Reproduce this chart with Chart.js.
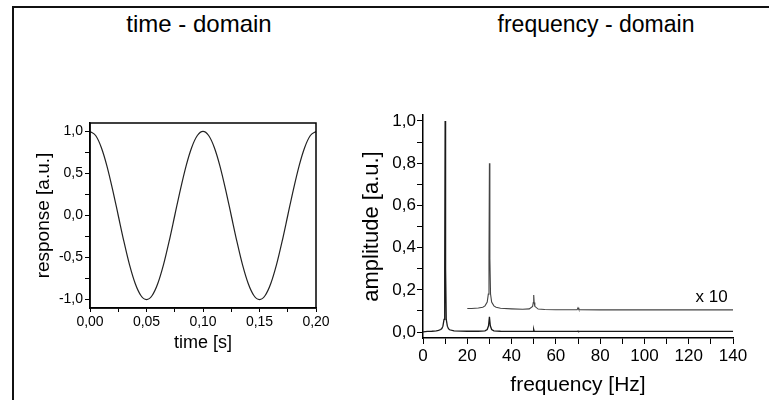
<!DOCTYPE html>
<html><head><meta charset="utf-8">
<script src="https://cdn.jsdelivr.net/npm/chart.js@4.4.1/dist/chart.umd.min.js"></script>
<style>
html,body{margin:0;padding:0;background:#fff;width:769px;height:400px;overflow:hidden;}
#frame{position:absolute;left:12px;top:6px;width:800px;height:500px;border-left:2px solid #111;border-top:2px solid #111;}
.title{position:absolute;top:10px;font-family:'Liberation Sans',Arial,sans-serif;font-size:23px;color:#000;transform:translateX(-50%);white-space:nowrap;line-height:28px;}
canvas{position:absolute;}
</style></head><body>
<div id="frame"></div>
<div class="title" style="left:199px;font-size:24px">time - domain</div>
<div class="title" style="left:596px">frequency - domain</div>
<canvas id="cL" width="340" height="262" style="left:0;top:95px"></canvas>
<canvas id="cR" width="429" height="305" style="left:340px;top:95px"></canvas>
<script>
// ---- time-domain data ----
const timeValues = [0.000,0.005,0.010,0.015,0.020,0.025,0.030,0.035,0.040,0.045,0.050,0.055,0.060,0.065,0.070,0.075,0.080,0.085,0.090,0.095,0.100,0.105,0.110,0.115,0.120,0.125,0.130,0.135,0.140,0.145,0.150,0.155,0.160,0.165,0.170,0.175,0.180,0.185,0.190,0.195,0.200];
const responseValues = [1.000,0.951,0.809,0.588,0.309,0.000,-0.309,-0.588,-0.809,-0.951,-1.000,-0.951,-0.809,-0.588,-0.309,0.000,0.309,0.588,0.809,0.951,1.000,0.951,0.809,0.588,0.309,0.000,-0.309,-0.588,-0.809,-0.951,-1.000,-0.951,-0.809,-0.588,-0.309,0.000,0.309,0.588,0.809,0.951,1.000];

// ---- frequency-domain data ----
const freqLow = [0,2,4,6,7,8,8.5,9,9.5,9.8,10,10.2,10.5,11,11.5,12,14,17,20,25,28,29,29.6,30,30.4,31,32,35,45,49.8,50,50.2,60,69.8,70,70.2,80,100,120,140];
const ampLow  = [0.001,0.003,0.004,0.006,0.008,0.012,0.017,0.028,0.06,0.3,1.0,0.3,0.06,0.028,0.016,0.011,0.006,0.005,0.004,0.004,0.006,0.012,0.03,0.072,0.03,0.012,0.006,0.004,0.003,0.004,0.012,0.004,0.003,0.003,0.005,0.003,0.003,0.003,0.003,0.003];
const freqHigh = [20,22,25,27,28,29,29.5,29.8,30,30.2,30.5,31,32,33,35,40,45,48,49.5,49.8,50,50.2,50.5,52,55,60,69.6,70,70.4,80,100,120,140];
const ampHigh  = [0.112,0.112,0.114,0.118,0.124,0.142,0.18,0.35,0.80,0.35,0.18,0.142,0.124,0.118,0.113,0.110,0.108,0.110,0.122,0.14,0.176,0.14,0.122,0.109,0.107,0.106,0.106,0.115,0.106,0.105,0.105,0.105,0.105];

// ---- tick values and labels ----
const timeTicks = [0,0.05,0.10,0.15,0.20];
const timeTickLabels = ['0,00','0,05','0,10','0,15','0,20'];
const timeMinor = [0.025,0.075,0.125,0.175];
const respTicks = [-1,-0.5,0,0.5,1];
const respTickLabels = ['-1,0','-0,5','0,0','0,5','1,0'];
const respMinor = [-0.75,-0.25,0.25,0.75];
const freqTicks = [0,20,40,60,80,100,120,140];
const freqTickLabels = ['0','20','40','60','80','100','120','140'];
const freqMinor = [10,30,50,70,90,110,130];
const ampTicks = [0,0.2,0.4,0.6,0.8,1.0];
const ampTickLabels = ['0,0','0,2','0,4','0,6','0,8','1,0'];
const ampMinor = [0.1,0.3,0.5,0.7,0.9];

const scaleLabel = 'x 10';
const scaleLabelPos = {x: 137.6, y: 0.165};

const FONT = "'Liberation Sans', Arial, Helvetica, sans-serif";

function axis(cfg) {
  const all = cfg.major.concat(cfg.minor).sort((a,b)=>a-b);
  return {
    type: 'linear',
    position: cfg.position,
    min: cfg.min, max: cfg.max,
    afterBuildTicks: s => { s.ticks = all.map(v => ({value: v})); },
    afterFit: s => { if (cfg.width !== undefined) s.width = cfg.width; if (cfg.height !== undefined) s.height = cfg.height; },
    grid: {display: true, drawOnChartArea: false, drawTicks: true, tickLength: cfg.tickLength, color: '#000', lineWidth: 1},
    border: {display: true, color: '#000', width: 1.5},
    ticks: {
      autoSkip: false, maxRotation: 0, minRotation: 0, padding: cfg.pad, color: '#000',
      font: {family: FONT, size: cfg.tickSize},
      callback: v => { const i = cfg.major.findIndex(m => Math.abs(m - v) < 1e-9); return i >= 0 ? cfg.labels[i] : ''; }
    },
    title: {display: true, text: cfg.title, color: '#000', font: {family: FONT, size: cfg.titleSize}, padding: cfg.titlePad}
  };
}

const boxPlugin = {
  id: 'box',
  afterDatasetsDraw(chart) {
    const {ctx, chartArea: a} = chart;
    ctx.save(); ctx.strokeStyle = '#000'; ctx.lineWidth = 1.5;
    ctx.strokeRect(a.left, a.top, a.right - a.left, a.bottom - a.top);
    ctx.restore();
  }
};

const labelPlugin = {
  id: 'x10',
  afterDatasetsDraw(chart) {
    const {ctx, scales} = chart;
    ctx.save();
    ctx.fillStyle = '#000'; ctx.font = '17px ' + FONT;
    ctx.textAlign = 'right'; ctx.textBaseline = 'middle';
    ctx.fillText(scaleLabel, scales.x.getPixelForValue(scaleLabelPos.x), scales.y.getPixelForValue(scaleLabelPos.y));
    ctx.restore();
  }
};

new Chart(document.getElementById('cL'), {
  type: 'line',
  data: {datasets: [{
    data: timeValues.map((t, i) => ({x: t, y: responseValues[i]})),
    borderColor: '#222', borderWidth: 1.2, pointRadius: 0, fill: false,
    cubicInterpolationMode: 'monotone'
  }]},
  options: {
    responsive: false, animation: false, devicePixelRatio: 1,
    layout: {padding: {left: 0, top: 28, right: 24, bottom: 0}},
    plugins: {legend: {display: false}, tooltip: {enabled: false}},
    scales: {
      x: axis({position: 'bottom', min: 0, max: 0.2, major: timeTicks, minor: timeMinor, labels: timeTickLabels,
               height: 49, tickLength: 4, pad: 2, tickSize: 14, title: 'time [s]', titleSize: 18, titlePad: {top: 0, bottom: 3}}),
      y: axis({position: 'left', min: -1.1, max: 1.1, major: respTicks, minor: respMinor, labels: respTickLabels,
               width: 90, tickLength: 5, pad: 2, tickSize: 14, title: 'response [a.u.]', titleSize: 19, titlePad: {top: 32, bottom: 0}})
    }
  },
  plugins: [boxPlugin]
});

new Chart(document.getElementById('cR'), {
  type: 'line',
  data: {datasets: [
    {data: freqLow.map((f, i) => ({x: f, y: ampLow[i]})), borderColor: '#1a1a1a', borderWidth: 1.3, pointRadius: 0, fill: false, tension: 0},
    {data: freqHigh.map((f, i) => ({x: f, y: ampHigh[i]})), borderColor: '#444', borderWidth: 1.1, pointRadius: 0, fill: false, tension: 0}
  ]},
  options: {
    responsive: false, animation: false, devicePixelRatio: 1,
    layout: {padding: {left: 0, top: 20, right: 36, bottom: 0}},
    plugins: {legend: {display: false}, tooltip: {enabled: false}},
    scales: {
      x: axis({position: 'bottom', min: 0, max: 140, major: freqTicks, minor: freqMinor, labels: freqTickLabels,
               height: 62, tickLength: 6, pad: 2, tickSize: 17, title: 'frequency [Hz]', titleSize: 21, titlePad: {top: 0, bottom: 2}}),
      y: axis({position: 'left', min: -0.028, max: 1.028, major: ampTicks, minor: ampMinor, labels: ampTickLabels,
               width: 83, tickLength: 6, pad: 1, tickSize: 17, title: 'amplitude [a.u.]', titleSize: 22, titlePad: {top: 19, bottom: 0}})
    }
  },
  plugins: [labelPlugin]
});
</script>
</body></html>
